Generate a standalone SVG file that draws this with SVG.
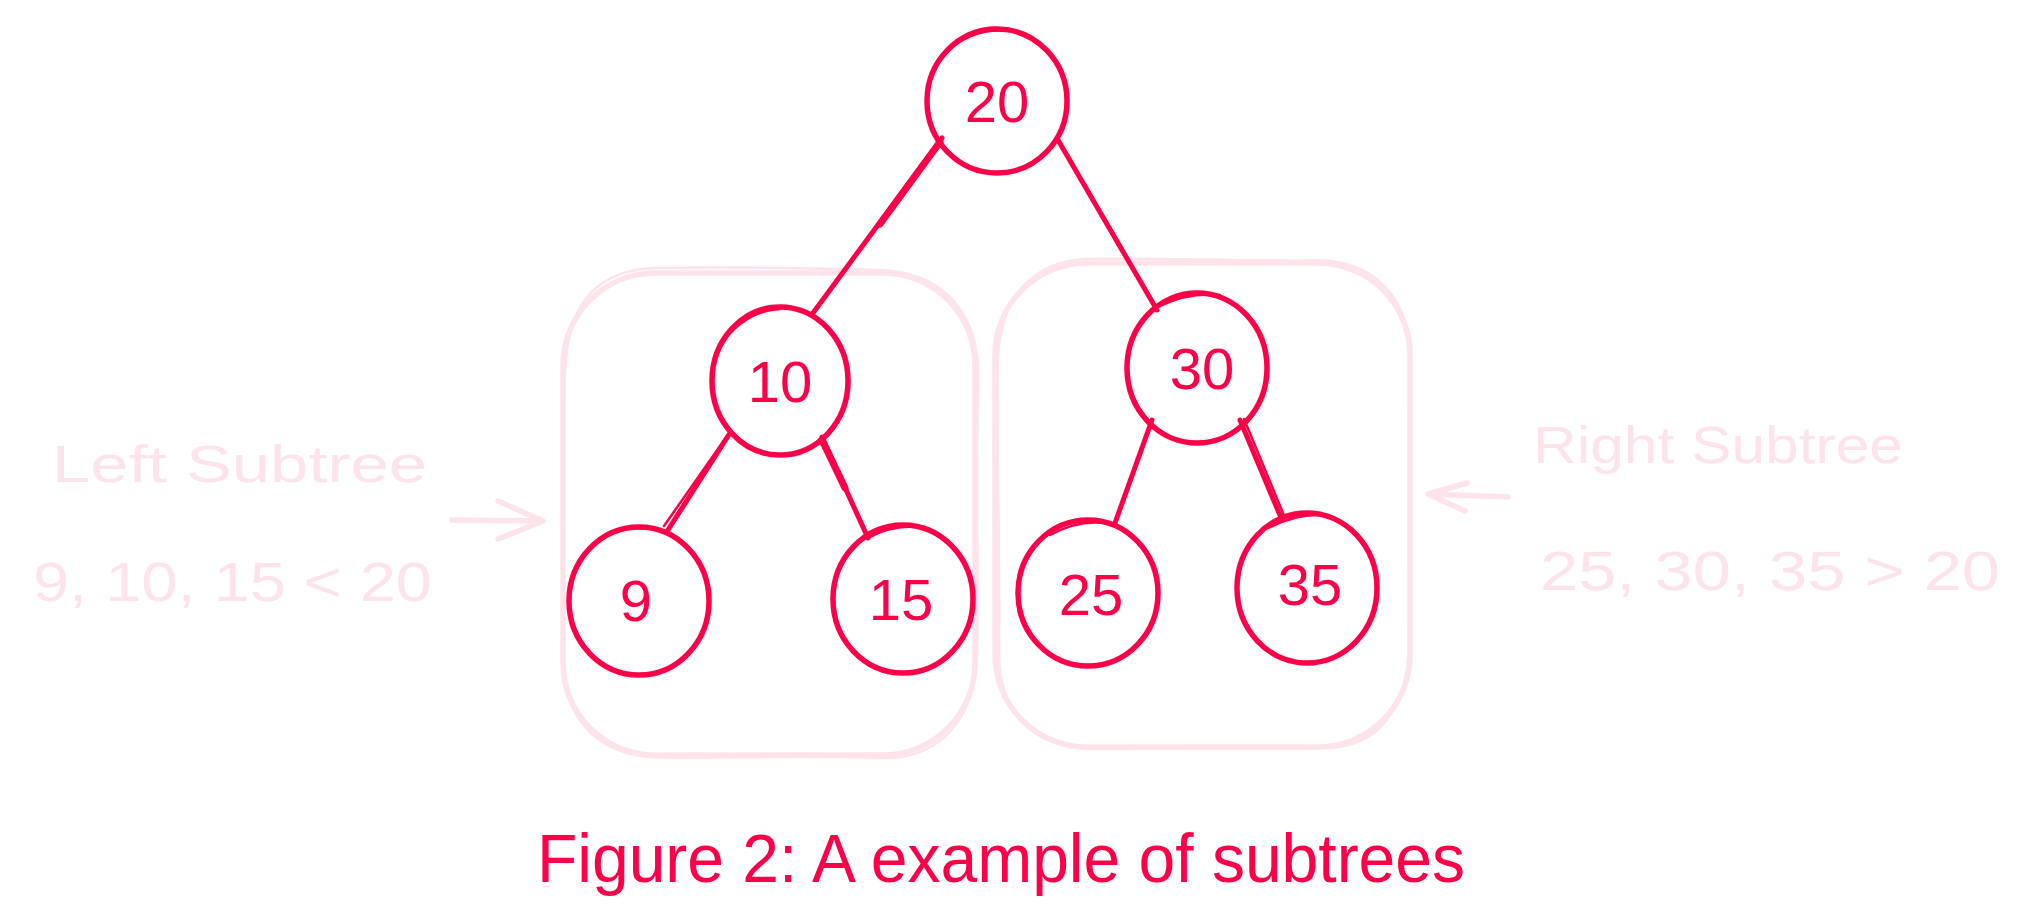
<svg xmlns="http://www.w3.org/2000/svg" width="2035" height="918" viewBox="0 0 2035 918">
<style>
.node{fill:none;stroke:#ff0048;stroke-width:5.5;stroke-linecap:round}
.node2{fill:none;stroke:#ff0048;stroke-width:2.5;stroke-linecap:round}
.lbl{font-family:"Liberation Sans",Arial,sans-serif;font-size:58px;fill:#ff0048;text-anchor:middle}
.edge{stroke:#ff0048;stroke-width:5;stroke-linecap:round;fill:none}
.box{fill:none;stroke:#ffe3eb;stroke-width:5.5}
.box2{fill:none;stroke:#ffe3eb;stroke-width:2.5}
.note{font-family:"Liberation Sans",Arial,sans-serif;fill:#ffe3eb}
.arr{fill:none;stroke:#ffe3eb;stroke-width:5.5;stroke-linecap:round;stroke-linejoin:round}
.cap{font-family:"Liberation Sans",Arial,sans-serif;font-size:68px;fill:#ff0048}
</style>
<rect width="2035" height="918" fill="#ffffff"/>

<g id="subtree-boxes">
  <g id="left-box">
    <rect class="box" x="563" y="273" width="412" height="482" rx="92" ry="92"/>
    <path class="box2" d="M655 268 C760 266 870 270 882 270 C950 274 980 320 978 380 C975 520 980 640 976 668 C970 730 930 760 880 758 C780 754 700 760 650 757 C590 752 560 710 562 650 C566 520 560 420 566 360 C570 300 600 270 655 268 Z"/>
  </g>
  <g id="right-box">
    <rect class="box" x="995" y="263" width="415" height="484" rx="92" ry="92"/>
    <path class="box2" d="M1085 259 C1180 258 1300 262 1318 260 C1385 262 1414 310 1410 370 C1406 500 1412 620 1408 660 C1402 720 1370 750 1318 748 C1220 745 1140 750 1088 749 C1030 746 998 710 999 650 C1000 520 996 420 998 360 C1000 300 1030 262 1085 259 Z"/>
  </g>
</g>

<g id="connectors">
  <path class="edge" d="M942 138 L813 313"/>
  <path class="edge" style="stroke-width:7" d="M940 142 L880 224"/>
  <path class="edge" d="M1058 140 L1157 310"/>
  <path class="edge" d="M730 433 L668 530"/>
  <path class="edge" style="stroke-width:2.5" d="M727 436 L664 526"/>
  <path class="edge" d="M822 437 L868 538"/>
  <path class="edge" style="stroke-width:7" d="M822 440 L845 488"/>
  <path class="edge" d="M1152 420 L1115 523"/>
  <path class="edge" d="M1240 420 L1282 520"/>
  <path class="edge" style="stroke-width:2.5" d="M1244 419 L1285 518"/>
</g>

<g id="node-20">
  <ellipse class="node" cx="997" cy="101" rx="70" ry="72"/>
  <path class="node2" d="M955 45 C975 30 1000 28 1020 32"/>
  <text class="lbl" x="997" y="122">20</text>
</g>
<g id="node-10">
  <ellipse class="node" cx="780" cy="381" rx="68" ry="74"/>
  <path class="node2" d="M728 335 C745 318 760 310 780 309"/>
  <text class="lbl" x="780" y="402">10</text>
</g>
<g id="node-30">
  <ellipse class="node" cx="1197" cy="368" rx="70" ry="75"/>
  <path class="node2" d="M1160 306 C1180 296 1200 293 1220 295"/>
  <text class="lbl" x="1202" y="389">30</text>
</g>
<g id="node-9">
  <ellipse class="node" cx="639" cy="601" rx="70" ry="74"/>
  <path class="node2" d="M600 538 C620 528 640 526 660 530"/>
  <text class="lbl" x="636" y="621">9</text>
</g>
<g id="node-15">
  <ellipse class="node" cx="903" cy="599" rx="70" ry="74"/>
  <path class="node2" d="M868 538 C885 528 905 525 925 527"/>
  <text class="lbl" x="901" y="620">15</text>
</g>
<g id="node-25">
  <ellipse class="node" cx="1088" cy="593" rx="70" ry="73"/>
  <path class="node2" d="M1050 535 C1070 524 1090 520 1110 524"/>
  <text class="lbl" x="1091" y="615">25</text>
</g>
<g id="node-35">
  <ellipse class="node" cx="1307" cy="588" rx="70" ry="75"/>
  <path class="node2" d="M1268 528 C1288 518 1310 513 1330 516"/>
  <text class="lbl" x="1310" y="605">35</text>
</g>

<g id="left-note">
  <text class="note" x="52" y="482" font-size="52" textLength="375" lengthAdjust="spacingAndGlyphs">Left Subtree</text>
  <text class="note" x="33" y="601" font-size="56" textLength="399" lengthAdjust="spacingAndGlyphs">9, 10, 15 &lt; 20</text>
  <path class="arr" d="M452 520 L543 521 M498 501 L543 521 L498 539"/>
</g>
<g id="right-note">
  <text class="note" x="1533" y="463" font-size="52" textLength="370" lengthAdjust="spacingAndGlyphs">Right Subtree</text>
  <text class="note" x="1540" y="590" font-size="56" textLength="460" lengthAdjust="spacingAndGlyphs">25, 30, 35 &gt; 20</text>
  <path class="arr" d="M1508 497 L1428 494 M1467 483 L1428 494 L1465 511"/>
</g>

<g id="caption">
  <text class="cap" x="537" y="882" textLength="928" lengthAdjust="spacingAndGlyphs">Figure 2: A example of subtrees</text>
</g>
</svg>
